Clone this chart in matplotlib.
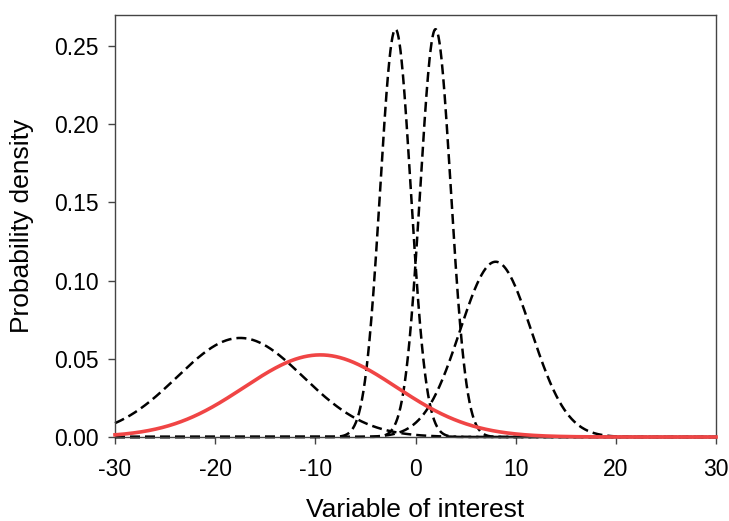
import numpy as np
import matplotlib
matplotlib.use('Agg')
import matplotlib.pyplot as plt

### Curve parameters (normal densities) ###
dashed_means = [-17.5, -2.0, 2.0, 8.0]
dashed_sds = [6.3, 1.53, 1.53, 3.56]
red_mean = -9.5
red_sd = 7.6

x_ticks = [-30, -20, -10, 0, 10, 20, 30]
y_ticks = [0.00, 0.05, 0.10, 0.15, 0.20, 0.25]


def normal_pdf(x, mu, sd):
    return np.exp(-0.5 * ((x - mu) / sd) ** 2) / (sd * np.sqrt(2 * np.pi))


plt.rcParams['font.family'] = ['Liberation Sans', 'DejaVu Sans']

fig = plt.figure(figsize=(7.29, 5.21), dpi=100)
ax = fig.add_axes([115 / 729, 1 - 437 / 521, 601 / 729, 421.5 / 521])

x = np.linspace(-30, 30, 1201)
for mu, sd in zip(dashed_means, dashed_sds):
    ax.plot(x, normal_pdf(x, mu, sd), color='black', lw=1.8,
            dashes=(4, 2), clip_on=False)
ax.plot(x, normal_pdf(x, red_mean, red_sd), color='#f04545', lw=2.6,
        clip_on=False, zorder=3)

ax.set_xlim(-30, 30)
ax.set_ylim(0, 0.2695)
ax.set_xticks(x_ticks)
ax.set_xticklabels([str(t) for t in x_ticks])
ax.set_yticks(y_ticks)
ax.set_yticklabels(['%.2f' % t for t in y_ticks])

for s in ax.spines.values():
    s.set_color('#444444')
    s.set_linewidth(1.0)
ax.tick_params(direction='out', length=5, width=1.0, color='#444444',
               labelsize=16.5, pad=7)
ax.tick_params(axis='y', right=False)
ax.tick_params(axis='x', top=False, pad=10)

ax.set_xlabel('Variable of interest', fontsize=19)
ax.set_ylabel('Probability density', fontsize=19)
ax.xaxis.set_label_coords(0.5, -0.173)
ax.yaxis.set_label_coords(-0.155, 0.5)
ax.xaxis.label.set_va('center')
ax.yaxis.label.set_va('center')

fig.savefig('out.png', dpi=100)
